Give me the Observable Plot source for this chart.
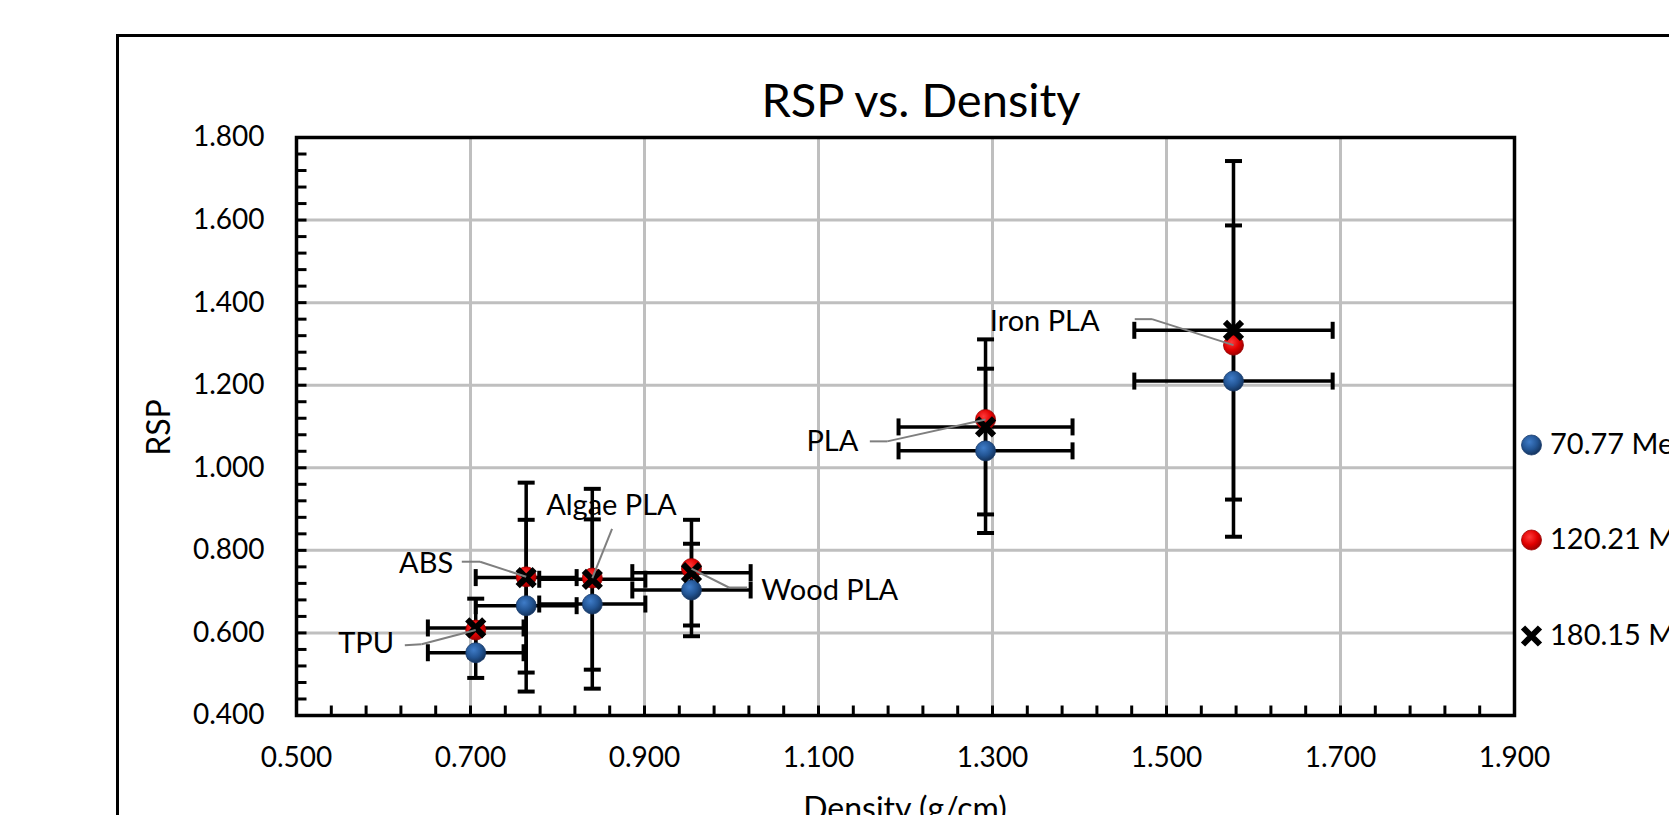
<!DOCTYPE html>
<html>
<head>
<meta charset="utf-8">
<script src="https://cdn.jsdelivr.net/npm/d3@7"></script>
<script src="https://cdn.jsdelivr.net/npm/@observablehq/plot@0.6"></script>
<style>
html,body{margin:0;padding:0;background:#fff;overflow:hidden;width:1669px;height:815px;}
#wrap{position:relative;width:1669px;height:815px;overflow:hidden;}
</style>
</head>
<body>
<div id="wrap"></div>
<script>
// ---- data ----
const materials  = ["TPU", "ABS", "Algae PLA", "Wood PLA", "PLA", "Iron PLA"];
const density    = [0.706, 0.764, 0.840, 0.954, 1.292, 1.577];
const densityErr = [0.055, 0.058, 0.061, 0.068, 0.100, 0.114];
const rsp70      = [0.552, 0.666, 0.670, 0.704, 1.041, 1.210];
const rsp70Err   = [0.061, 0.208, 0.205, 0.112, 0.199, 0.377];
const rsp120     = [0.607, 0.736, 0.733, 0.756, 1.117, 1.297];
const rsp180     = [0.612, 0.734, 0.730, 0.746, 1.099, 1.333];
const rsp180Err  = [0.071, 0.230, 0.219, 0.128, 0.212, 0.410];
const seriesNames = ["70.77 MeV", "120.21 MeV", "180.15 MeV"];
const xTicks = [0.5, 0.7, 0.9, 1.1, 1.3, 1.5, 1.7, 1.9];
const yTicks = [0.4, 0.6, 0.8, 1.0, 1.2, 1.4, 1.6, 1.8];
// data-label positions (data units) and leader-line points
const labelX      = [0.580, 0.649, 0.862, 1.113, 1.116, 1.360];
const labelY      = [0.573, 0.768, 0.909, 0.702, 1.062, 1.354];
const leadStartX  = [0.6245, 0.690, 0.8627, 1.018, 1.159, 1.4635];
const leadStartY  = [0.570, 0.7725, 0.852, 0.710, 1.064, 1.360];
const leadElbowX  = [0.6438, 0.711, 0.8627, 0.997, 1.179, 1.4833];
const leadElbowY  = [0.5725, 0.7725, 0.852, 0.710, 1.064, 1.360];

const xDomain = [0.5, 1.9], yDomain = [0.4, 1.8];
const minorStep = 0.04;
const xMinor = d3.range(1, Math.round((xDomain[1] - xDomain[0]) / minorStep)).map(i => xDomain[0] + i * minorStep);
const yMinor = d3.range(1, Math.round((yDomain[1] - yDomain[0]) / minorStep)).map(i => yDomain[0] + i * minorStep);
const idx = d3.range(materials.length);
const fmt = d3.format(".3f");
const FONT = "Lato, 'Open Sans', sans-serif";

// custom symbols
const rad = s => Math.sqrt(s / Math.PI);
const capH = {draw(c, s) { const r = rad(s); c.moveTo(-r, 0); c.lineTo(r, 0); }};
const capV = {draw(c, s) { const r = rad(s); c.moveTo(0, -r); c.lineTo(0, r); }};
const tickRight = {draw(c, s) { const r = rad(s); c.moveTo(0, 0); c.lineTo(r, 0); }};
const tickUp = {draw(c, s) { const r = rad(s); c.moveTo(0, 0); c.lineTo(0, -r); }};
const cross = {draw(c, s) { const r = rad(s); c.moveTo(-r, -r); c.lineTo(r, r); c.moveTo(-r, r); c.lineTo(r, -r); }};

const errStyle = {stroke: "#000", strokeWidth: 3.5};
const capStyle = {stroke: "#000", strokeWidth: 4, fill: "none", r: 8.5};

function errorMarks(vals, errs) {
  return [
    Plot.ruleX(idx, {x: i => density[i], y1: i => vals[i] - errs[i], y2: i => vals[i] + errs[i], ...errStyle}),
    Plot.ruleY(idx, {y: i => vals[i], x1: i => density[i] - densityErr[i], x2: i => density[i] + densityErr[i], ...errStyle}),
    Plot.dot(idx, {x: i => density[i], y: i => vals[i] - errs[i], symbol: capH, ...capStyle}),
    Plot.dot(idx, {x: i => density[i], y: i => vals[i] + errs[i], symbol: capH, ...capStyle}),
    Plot.dot(idx, {x: i => density[i] - densityErr[i], y: i => vals[i], symbol: capV, ...capStyle}),
    Plot.dot(idx, {x: i => density[i] + densityErr[i], y: i => vals[i], symbol: capV, ...capStyle})
  ];
}

const chart = Plot.plot({
  width: 1669,
  height: 850,
  marginLeft: 296,
  marginRight: 155,
  marginTop: 137,
  marginBottom: 135,
  x: {domain: xDomain, axis: null},
  y: {domain: yDomain, axis: null},
  style: {fontFamily: FONT, color: "#000", background: "transparent"},
  marks: [
    Plot.ruleX(xTicks, {stroke: "#bfbfbf", strokeWidth: 3}),
    Plot.ruleY(yTicks, {stroke: "#bfbfbf", strokeWidth: 3}),
    ...errorMarks(rsp70, rsp70Err),
    ...errorMarks(rsp180, rsp180Err),
    Plot.dot(idx, {x: i => density[i], y: i => rsp70[i], r: 10, fill: "url(#gBlue)", stroke: "#173a6b", strokeWidth: 0.8}),
    Plot.dot(idx, {x: i => density[i], y: i => rsp120[i], r: 10, fill: "url(#gRed)", stroke: "#9a0000", strokeWidth: 0.8}),
    Plot.dot(idx, {x: i => density[i], y: i => rsp180[i], r: 8.5, symbol: cross, fill: "none", stroke: "#000", strokeWidth: 6}),
    Plot.link(idx, {x1: i => leadStartX[i], y1: i => leadStartY[i], x2: i => leadElbowX[i], y2: i => leadElbowY[i], stroke: "#7f7f7f", strokeWidth: 2}),
    Plot.link(idx, {x1: i => leadElbowX[i], y1: i => leadElbowY[i], x2: i => density[i], y2: i => rsp120[i], stroke: "#7f7f7f", strokeWidth: 2}),
    Plot.text(idx, {x: i => labelX[i], y: i => labelY[i], text: i => materials[i], fontSize: 29, fontFamily: FONT, fill: "#000"}),
    Plot.frame({stroke: "#000", strokeWidth: 3.5}),
    Plot.dot(yMinor, {x: () => xDomain[0], y: d => d, symbol: tickRight, r: 10, fill: "none", stroke: "#000", strokeWidth: 3}),
    Plot.dot(xMinor, {x: d => d, y: () => yDomain[0], symbol: tickUp, r: 10, fill: "none", stroke: "#000", strokeWidth: 3}),
    Plot.text(yTicks, {x: () => xDomain[0], y: d => d, text: d => fmt(d), dx: -32, textAnchor: "end", fontSize: 28, fontFamily: FONT, fill: "#000"}),
    Plot.text(xTicks, {x: d => d, y: () => yDomain[0], text: d => fmt(d), dy: 43, fontSize: 28, fontFamily: FONT, fill: "#000"})
  ]
});

const svg = d3.select(chart);
const defs = svg.insert("defs", ":first-child");
const gb = defs.append("radialGradient").attr("id", "gBlue").attr("cx", "40%").attr("cy", "35%").attr("r", "65%");
gb.append("stop").attr("offset", "0%").attr("stop-color", "#3f7cc8");
gb.append("stop").attr("offset", "60%").attr("stop-color", "#235594");
gb.append("stop").attr("offset", "100%").attr("stop-color", "#15355f");
const gr = defs.append("radialGradient").attr("id", "gRed").attr("cx", "40%").attr("cy", "35%").attr("r", "65%");
gr.append("stop").attr("offset", "0%").attr("stop-color", "#ff3a3a");
gr.append("stop").attr("offset", "60%").attr("stop-color", "#e00000");
gr.append("stop").attr("offset", "100%").attr("stop-color", "#a00000");

// outer chart-area border (extends beyond the window on the right and bottom)
svg.insert("rect", "defs + *").attr("x", 117.5).attr("y", 35.5).attr("width", 3000).attr("height", 3000)
  .attr("fill", "none").attr("stroke", "#000").attr("stroke-width", 3);

const over = svg.append("g").attr("font-family", FONT).attr("fill", "#000");
over.append("text").attr("x", 921).attr("y", 117).attr("text-anchor", "middle").attr("font-size", 47).text("RSP vs. Density");
over.append("text").attr("transform", "translate(170,427.5) rotate(-90)").attr("text-anchor", "middle").attr("font-size", 32).text("RSP");
over.append("text").attr("x", 905).attr("y", 820).attr("text-anchor", "middle").attr("font-size", 32).text("Density (g/cm)");

// legend
const legY = [445, 540, 636], legBase = [453.5, 549, 645];
const lg = over.append("g");
lg.append("circle").attr("cx", 1531.5).attr("cy", legY[0]).attr("r", 10).attr("fill", "url(#gBlue)").attr("stroke", "#173a6b").attr("stroke-width", 0.8);
lg.append("circle").attr("cx", 1531.5).attr("cy", legY[1]).attr("r", 10).attr("fill", "url(#gRed)").attr("stroke", "#9a0000").attr("stroke-width", 0.8);
lg.append("path").attr("d", "M-8.5,-8.5L8.5,8.5M-8.5,8.5L8.5,-8.5").attr("transform", `translate(1531.5,${legY[2]})`).attr("stroke", "#000").attr("stroke-width", 6).attr("fill", "none");
seriesNames.forEach((n, k) => {
  lg.append("text").attr("x", 1550).attr("y", legBase[k]).attr("text-anchor", "start").attr("font-size", 29).text(n);
});

document.getElementById("wrap").appendChild(chart);
</script>
</body>
</html>
